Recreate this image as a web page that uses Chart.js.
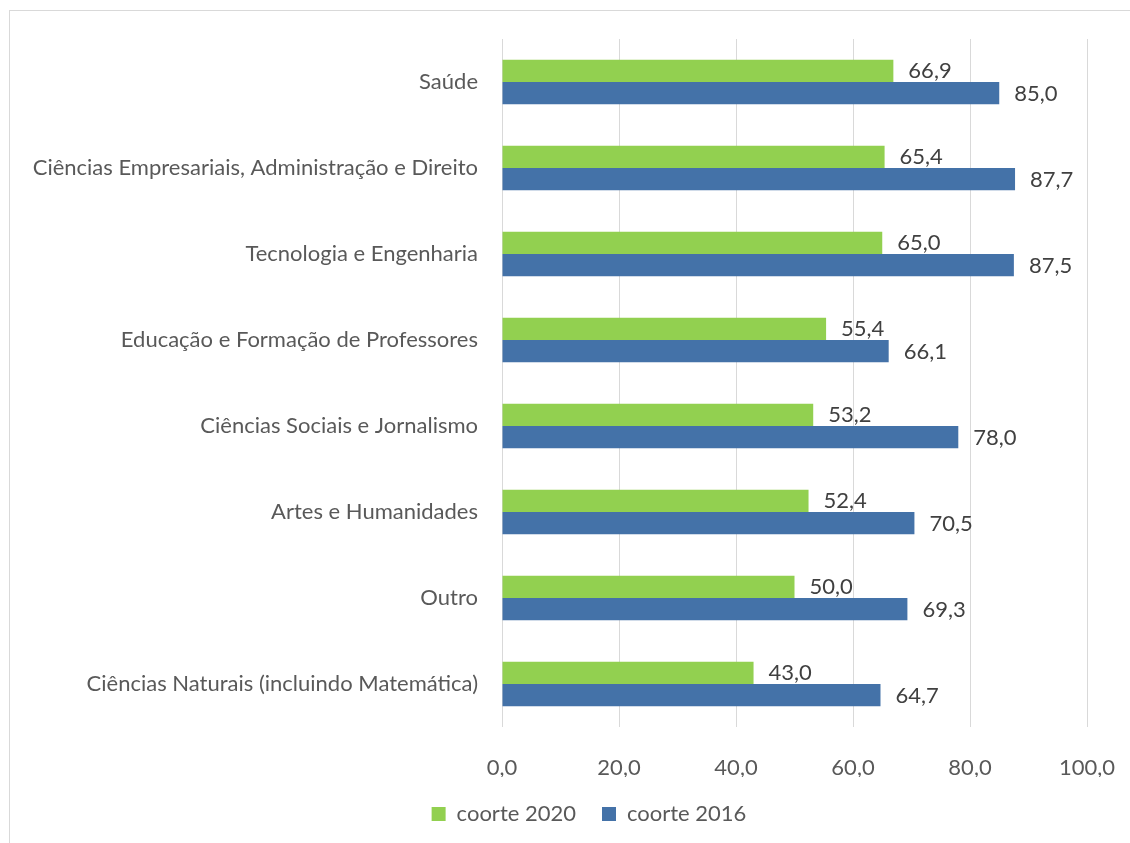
<!DOCTYPE html>
<html>
<head>
<meta charset="utf-8">
<script src="https://cdn.jsdelivr.net/npm/chart.js@4"></script>
<style>
  html, body { margin: 0; padding: 0; background: #ffffff; }
  #wrap { width: 1130px; height: 843px; position: relative; }
</style>
</head>
<body>
<div id="wrap"><canvas id="c" width="1130" height="843"></canvas></div>
<script>
const categories = [
  "Saúde",
  "Ciências Empresariais, Administração e Direito",
  "Tecnologia e Engenharia",
  "Educação e Formação de Professores",
  "Ciências Sociais e Jornalismo",
  "Artes e Humanidades",
  "Outro",
  "Ciências Naturais (incluindo Matemática)"
];
const coorte2020 = [66.9, 65.4, 65.0, 55.4, 53.2, 52.4, 50.0, 43.0];
const coorte2016 = [85.0, 87.7, 87.5, 66.1, 78.0, 70.5, 69.3, 64.7];
const seriesNames = ["coorte 2020", "coorte 2016"];
const xTicks = [0, 20, 40, 60, 80, 100];

const FONT = "Lato, 'Noto Sans', sans-serif";
const FS = 22;
const fmt = v => Number(v).toFixed(1).replace('.', ',');

const borderPlugin = {
  id: 'outerBorder',
  beforeDraw(chart) {
    const ctx = chart.ctx;
    ctx.save();
    ctx.fillStyle = '#ffffff';
    ctx.fillRect(0, 0, chart.width, chart.height);
    ctx.strokeStyle = '#d9d9d9';
    ctx.lineWidth = 1;
    ctx.strokeRect(9.5, 10.5, chart.width + 20, chart.height + 20);
    ctx.restore();
  }
};

const legendShift = {
  id: 'legendShift',
  afterLayout(chart) {
    const lg = chart.legend;
    if (lg) { lg.left += 91; }
  }
};

const labelPlugin = {
  id: 'valueLabels',
  afterDatasetsDraw(chart) {
    const ctx = chart.ctx;
    ctx.save();
    ctx.font = FS + "px " + FONT;
    ctx.fillStyle = '#404040';
    ctx.textAlign = 'left';
    ctx.textBaseline = 'middle';
    chart.data.datasets.forEach((ds, di) => {
      const meta = chart.getDatasetMeta(di);
      meta.data.forEach((el, i) => {
        ctx.fillText(fmt(ds.data[i]), el.x + 15, el.y + (di === 0 ? 0 : 1));
      });
    });
    ctx.restore();
  }
};

new Chart(document.getElementById('c'), {
  type: 'bar',
  data: {
    labels: categories,
    datasets: [
      { label: seriesNames[0], data: coorte2020, backgroundColor: '#92d050', borderWidth: 0,
        categoryPercentage: 0.52, barPercentage: 1.0 },
      { label: seriesNames[1], data: coorte2016, backgroundColor: '#4472a8', borderWidth: 0,
        categoryPercentage: 0.52, barPercentage: 1.0 }
    ]
  },
  options: {
    indexAxis: 'y',
    responsive: false,
    animation: false,
    layout: { padding: { left: 0, right: 43, top: 39, bottom: 8 } },
    scales: {
      x: {
        min: 0, max: 100,
        afterBuildTicks(scale) { scale.ticks = xTicks.map(v => ({ value: v })); },
        afterFit(scale) { scale.height = 50; scale.paddingLeft = 0; scale.paddingRight = 0; },
        grid: { color: '#d9d9d9', lineWidth: 1, drawTicks: false },
        border: { display: false },
        ticks: {
          padding: 28,
          color: '#595959',
          font: { family: FONT, size: FS },
          callback: v => fmt(v)
        }
      },
      y: {
        afterFit(scale) { scale.width = 502; },
        grid: { display: false, drawTicks: false },
        border: { display: false },
        ticks: {
          padding: 24,
          color: '#595959',
          font: { family: FONT, size: FS }
        }
      }
    },
    plugins: {
      legend: {
        position: 'bottom',
        labels: {
          color: '#595959',
          font: { family: FONT, size: FS },
          boxWidth: 14, boxHeight: 14,
          padding: 26
        }
      },
      tooltip: { enabled: false }
    }
  },
  plugins: [borderPlugin, legendShift, labelPlugin]
});
</script>
</body>
</html>
